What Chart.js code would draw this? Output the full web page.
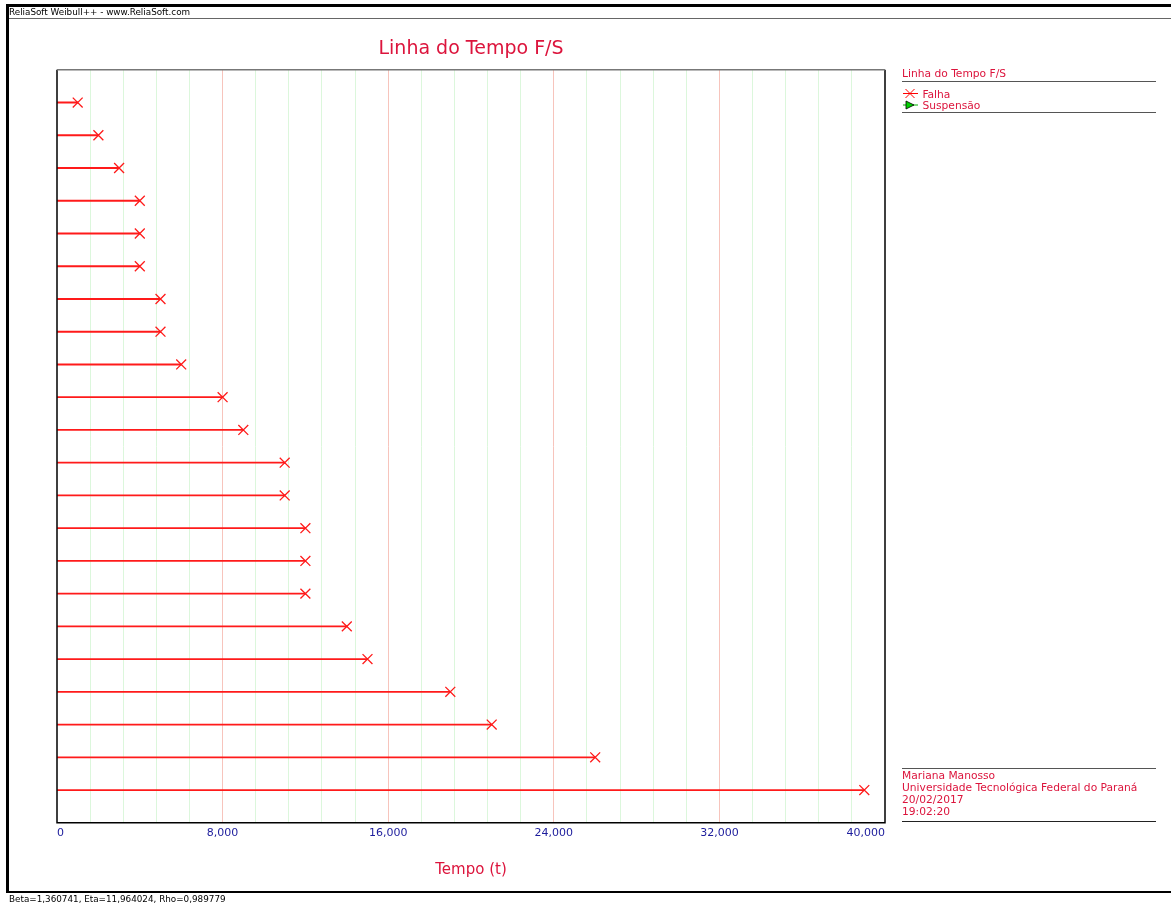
<!DOCTYPE html>
<html>
<head>
<meta charset="utf-8">
<script src="https://cdn.jsdelivr.net/npm/chart.js@4"></script>
<style>
  html, body { margin: 0; padding: 0; background: #fff; }
  body { width: 1171px; height: 905px; position: relative; overflow: hidden; font-family: "DejaVu Sans", sans-serif; }
  #wrap { position: absolute; left: 0; top: 0; width: 1171px; height: 905px; }
  .abs { position: absolute; }
  .bar { background: #000; }
  .small { font-size: 8.8px; color: #000; white-space: nowrap; }
  .leg { font-size: 10.7px; color: #dc143c; white-space: nowrap; line-height: 12px; }
  .rule { height: 1px; background: #555; }
</style>
</head>
<body>
<div id="wrap"><canvas id="chart"></canvas></div>

<!-- window frame -->
<div class="abs bar" style="left:7px; top:4px; width:1164px; height:3px;"></div>
<div class="abs bar" style="left:6px; top:4px; width:3px; height:889px;"></div>
<div class="abs" style="left:9px; top:18px; width:1162px; height:1px; background:#666;"></div>
<div class="abs bar" style="left:7px; top:891px; width:1164px; height:2px;"></div>
<div class="abs small" style="left:9px; top:7px;">ReliaSoft Weibull++ - www.ReliaSoft.com</div>
<div class="abs small" style="left:9px; top:894px;">Beta=1,360741, Eta=11,964024, Rho=0,989779</div>

<!-- legend -->
<div class="abs leg" style="left:902px; top:68px;">Linha do Tempo F/S</div>
<div class="abs rule" style="left:902px; top:81px; width:254px;"></div>
<div class="abs leg" style="left:902px; top:88px;">
  <svg width="17" height="11" style="vertical-align:-1px"><line x1="1" y1="5.5" x2="16" y2="5.5" stroke="#ff0000" stroke-width="1"/><line x1="3.5" y1="1" x2="12.5" y2="10" stroke="#ff0000"/><line x1="12.5" y1="1" x2="3.5" y2="10" stroke="#ff0000"/></svg> Falha
</div>
<div class="abs leg" style="left:902px; top:100px;">
  <svg width="17" height="10" style="vertical-align:-1px"><line x1="1" y1="5" x2="16" y2="5" stroke="#00b000" stroke-width="1"/><polygon points="4,1 12,5 4,9" fill="#00d000" stroke="#000" stroke-width="0.8"/></svg> Suspensão
</div>
<div class="abs rule" style="left:902px; top:112px; width:254px;"></div>

<!-- user info -->
<div class="abs rule" style="left:902px; top:768px; width:254px;"></div>
<div class="abs leg" style="left:902px; top:770px;">Mariana Manosso<br>Universidade Tecnológica Federal do Paraná<br>20/02/2017<br>19:02:20</div>
<div class="abs rule" style="left:902px; top:821px; width:254px; background:#222;"></div>

<script>
/* Linha do Tempo F/S: failure times per unit */

const rowIndex = [1, 2, 3, 4, 5, 6, 7, 8, 9, 10, 11, 12, 13, 14, 15, 16, 17, 18, 19, 20, 21, 22];
const failureTimes = [1000, 2000, 3000, 4000, 4000, 4000, 5000, 5000, 6000, 8000, 9000,
  11000, 11000, 12000, 12000, 12000, 14000, 15000, 19000, 21000, 26000, 39000];
const xTicks = [0, 8000, 16000, 24000, 32000, 40000];

const RED = "#ff1a1a";
const CRIMSON = "#dc143c";

const points = failureTimes.map((t, i) => ({ x: t, y: rowIndex[i] }));

const frameBox = {
  id: "frameBox",
  afterDraw(chart) {
    const { ctx, chartArea: a } = chart;
    ctx.save();
    ctx.lineWidth = 1.5;
    ctx.strokeStyle = "#000";
    ctx.beginPath();
    ctx.moveTo(a.left, a.top);
    ctx.lineTo(a.left, a.bottom);
    ctx.lineTo(a.right, a.bottom);
    ctx.lineTo(a.right, a.top);
    ctx.stroke();
    ctx.strokeStyle = "#777";
    ctx.beginPath();
    ctx.moveTo(a.left, a.top);
    ctx.lineTo(a.right, a.top);
    ctx.stroke();
    ctx.restore();
  },
};

new Chart(document.getElementById("chart").getContext("2d"), {
  type: "bar",
  data: {
    datasets: [
      {
        type: "bar",
        label: "Linha",
        data: points,
        backgroundColor: RED,
        borderWidth: 0,
        barThickness: 1.2,
        order: 2,
      },
      {
        type: "scatter",
        label: "Falha",
        data: points,
        pointStyle: "crossRot",
        pointRadius: 7,
        pointBorderWidth: 1.3,
        borderColor: RED,
        backgroundColor: RED,
        order: 1,
      },
    ],
  },
  options: {
    indexAxis: "y",
    responsive: true,
    maintainAspectRatio: false,
    animation: false,
    layout: { padding: { left: 57, right: 286, top: 38, bottom: 22 } },
    plugins: {
      legend: { display: false },
      tooltip: { enabled: false },
      title: {
        display: true,
        text: "Linha do Tempo F/S",
        color: CRIMSON,
        font: { family: "DejaVu Sans", size: 19, weight: "normal" },
        padding: { top: 0, bottom: 9 },
      },
    },
    scales: {
      x: {
        type: "linear",
        min: 0,
        max: 40000,
        afterBuildTicks(scale) {
          // major labelled ticks plus 4 minor lines between each
          const ticks = [];
          for (let i = 0; i < xTicks.length; i++) {
            ticks.push({ value: xTicks[i] });
            if (i < xTicks.length - 1) {
              const step = (xTicks[i + 1] - xTicks[i]) / 5;
              for (let k = 1; k < 5; k++) ticks.push({ value: xTicks[i] + step * k });
            }
          }
          scale.ticks = ticks;
        },
        ticks: {
          autoSkip: false,
          maxRotation: 0,
          align: "inner",
          padding: 4,
          color: "#1c1c9c",
          font: { family: "DejaVu Sans", size: 11 },
          callback: (v) => (xTicks.includes(v) ? v.toLocaleString("en-US") : ""),
        },
        grid: {
          drawTicks: false,
          lineWidth: 1,
          color: (c) => {
            const v = c.tick ? c.tick.value : 0;
            if (v === 0 || v === 40000) return "rgba(0,0,0,0)";
            return xTicks.includes(v) ? "#f7c4bc" : "#dcf7dc";
          },
        },
        border: { display: false },
        title: {
          display: true,
          text: "Tempo (t)",
          color: CRIMSON,
          font: { family: "DejaVu Sans", size: 15 },
          padding: { top: 17, bottom: 4 },
        },
      },
      y: {
        type: "linear",
        display: false,
        offset: false,
        min: 0,
        max: 23,
        reverse: true,
      },
    },
  },
  plugins: [frameBox],
});
</script>
</body>
</html>
